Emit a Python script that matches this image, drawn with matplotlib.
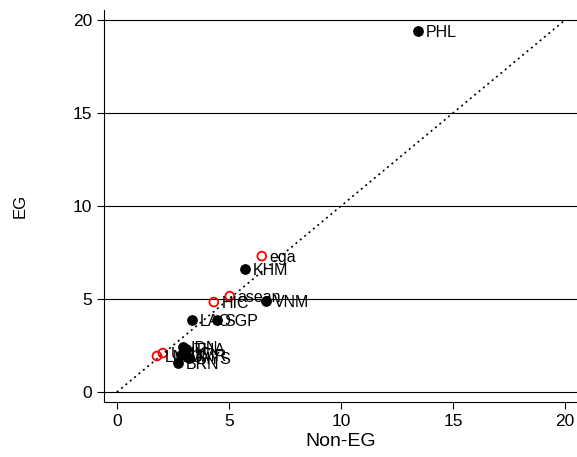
import matplotlib.pyplot as plt

plt.rcParams['font.family'] = ['Liberation Sans', 'DejaVu Sans']

# Countries (black filled)
countries = ["PHL", "KHM", "VNM", "LAO", "SGP", "IDN", "THA", "MMR", "MYS", "BRN"]
country_x = [13.44, 5.71, 6.65, 3.35, 4.46, 2.95, 3.10, 2.86, 3.21, 2.72]
country_y = [19.41, 6.61, 4.89, 3.87, 3.87, 2.42, 2.30, 1.99, 1.83, 1.56]

# Groups (red hollow)
groups = ["ega", "asean", "HIC", "UMIC", "LMIC"]
group_x = [6.47, 5.04, 4.33, 2.05, 1.79]
group_y = [7.31, 5.16, 4.84, 2.10, 1.94]

fig = plt.figure(figsize=(5.77, 4.57), dpi=100)
ax = fig.add_axes([0.180, 0.120, 0.82, 0.858])

for yv in [0, 5, 10, 15, 20]:
    ax.axhline(yv, color="black", linewidth=0.8, zorder=1)

ax.plot([0, 20], [0, 20], color="black", linestyle=(0, (1.2, 2.2)), linewidth=1.2, zorder=2)

ax.scatter(country_x, country_y, s=45, color="black", zorder=3)
ax.scatter(group_x, group_y, s=40, facecolor="none", edgecolor="red", linewidth=1.3, zorder=3)

for name, x, y in zip(countries + groups, country_x + group_x, country_y + group_y):
    ax.annotate(name, (x, y), xytext=(5.5, -0.8), textcoords="offset points",
                va="center", ha="left", fontsize=11.5, zorder=4)

ax.set_xlim(-0.58, 20.54)
ax.set_ylim(-0.54, 20.54)
ax.set_xticks([0, 5, 10, 15, 20])
ax.set_yticks([0, 5, 10, 15, 20])
ax.tick_params(labelsize=12.5, length=5, width=0.8)
ax.set_xlabel("Non-EG", fontsize=14, labelpad=3)
ax.set_ylabel("EG", fontsize=12, labelpad=32)

for side in ["top", "right"]:
    ax.spines[side].set_visible(False)
for side in ["left", "bottom"]:
    ax.spines[side].set_linewidth(0.8)

fig.savefig("out.png", dpi=100)
